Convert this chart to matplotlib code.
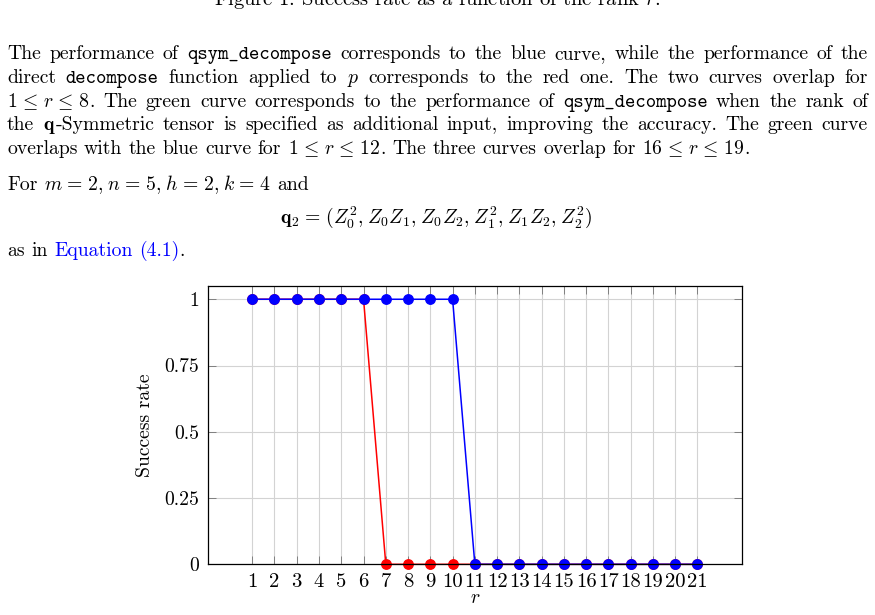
import matplotlib
matplotlib.use("Agg")
import matplotlib.pyplot as plt
from matplotlib.transforms import IdentityTransform

# ---------------- data ----------------
rank = [1, 2, 3, 4, 5, 6, 7, 8, 9, 10, 11, 12, 13, 14, 15, 16, 17, 18, 19, 20, 21]
red_rate = [1, 1, 1, 1, 1, 1, 0, 0, 0, 0, 0, 0, 0, 0, 0, 0, 0, 0, 0, 0, 0]
blue_rate = [1, 1, 1, 1, 1, 1, 1, 1, 1, 1, 0, 0, 0, 0, 0, 0, 0, 0, 0, 0, 0]
y_ticks = [0, 0.25, 0.5, 0.75, 1]
y_tick_labels = ["0", "0.25", "0.5", "0.75", "1"]
x_label = "$r$"
y_label = "Success rate"
caption = "Figure 1: Success rate as a function of the rank $r$."

plt.rcParams["font.family"] = ["cmr10", "DejaVu Serif"]
plt.rcParams["mathtext.fontset"] = "cm"
plt.rcParams["axes.formatter.use_mathtext"] = True

W, H = 875, 615
FS = 14.2
PX = FS * 100 / 72.0  # em in pixels

fig = plt.figure(figsize=(W / 100, H / 100), dpi=100)
fig.patch.set_facecolor("white")
renderer = fig.canvas.get_renderer()


def piece_kw(style):
    kw = dict(fontsize=FS, color="black")
    if style == "tt":
        kw["family"] = "cmtt10"
    elif style == "link":
        kw["color"] = "#0000ff"
    return kw


def put(x, ytop, s, style):
    return fig.text(x, H - ytop, s, transform=IdentityTransform(), ha="left",
                    va="baseline", **piece_kw(style))


def piece_width(s, st):
    t = put(0, -100, s, st)
    w = t.get_window_extent(renderer).width
    t.remove()
    return w


def token_width(tok):
    return sum(piece_width(s, st) for s, st in tok)


def draw_token(x, y, tok):
    for s, st in tok:
        t = put(x, y, s, st)
        x += t.get_window_extent(renderer).width
    return x


def draw_line(tokens, y, x0=7, x1=868, justify=True, center=None):
    widths = [token_width(t) for t in tokens]
    if justify and len(tokens) > 1:
        gap = (x1 - x0 - sum(widths)) / (len(tokens) - 1)
    else:
        gap = 0.333 * PX
    x = x0
    if center is not None:
        x = center - (sum(widths) + gap * (len(tokens) - 1)) / 2
    for tok, w in zip(tokens, widths):
        draw_token(x, y, tok)
        x += w + gap


def words(s, style="rm"):
    return [[(w, style)] for w in s.split()]


REL = r"\hspace{0.12}"
COM = r"\hspace{0.06}"


def m(s):
    s = s.replace("=", REL + "=" + REL).replace(r"\leq", REL + r"\leq" + REL)
    s = s.replace(",", "," + COM)
    return ("$" + s + "$", "m")


# caption (clipped at the top of the page)
fig.text(437, H - 5, caption, transform=IdentityTransform(), ha="center",
         va="baseline", fontsize=FS * 1.04)

line1 = (words("The performance of") + [[("qsym_decompose", "tt")]]
         + words("corresponds to the blue curve, while the performance of the"))
line2 = (words("direct") + [[("decompose", "tt")]] + words("function applied to")
         + [[m("p")]] + words("corresponds to the red one.  The two curves overlap for"))
line3 = ([[m(r"1 \leq r \leq 8"), (".", "rm")]]
         + words("The green curve corresponds to the performance of")
         + [[("qsym_decompose", "tt")]] + words("when the rank of"))
line4 = (words("the") + [[(r"$\mathbf{q}$", "m"), ("-Symmetric", "rm")]]
         + words("tensor is specified as additional input, improving the accuracy. The green curve"))
line5 = (words("overlaps with the blue curve for")
         + [[m(r"1 \leq r \leq 12"), (".", "rm")]]
         + words("The three curves overlap for")
         + [[m(r"16 \leq r \leq 19"), (".", "rm")]])
line6 = (words("For") + [[m("m = 2, n = 5, h = 2, k = 4")]] + words("and"))
line7 = [[m(r"\mathbf{q}_2 = (Z_0^2, Z_0Z_1, Z_0Z_2, Z_1^2, Z_1Z_2, Z_2^2)")]]
line8 = (words("as in") + [[("Equation", "link")], [("(4.1)", "link"), (".", "rm")]])

draw_line(line1, 59.3)
draw_line(line2, 83.0)
draw_line(line3, 106.7)
draw_line(line4, 130.5)
draw_line(line5, 154.2, justify=False)
draw_line(line6, 190.0, justify=False)
draw_line(line7, 223.0, justify=False, center=436)
draw_line(line8, 256.0, justify=False)

# ---------------- chart ----------------
L, R, T, B = 207.7, 742.0, 286.0, 564.3
ax = fig.add_axes([L / W, 1 - B / H, (R - L) / W, (B - T) / H])
ax.plot(rank, red_rate, color="red", lw=1.1, marker="o", ms=6.8,
        mfc="red", mec="red", clip_on=False, zorder=3)
ax.plot(rank, blue_rate, color="blue", lw=1.1, marker="o", ms=6.8,
        mfc="blue", mec="blue", clip_on=False, zorder=4)
ax.set_xlim(-1, 23)
ax.set_ylim(0, 1.05)
ax.set_xticks(rank)
ax.set_xticklabels([str(v) for v in rank])
ax.set_yticks(y_ticks)
ax.set_yticklabels(y_tick_labels)
ax.grid(True, color="#d3d3d3", lw=0.8, zorder=0)
ax.set_axisbelow(True)
ax.tick_params(direction="in", length=5.8, width=0.7, color="#808080",
               top=True, right=True, labelsize=FS, pad=6)
ax.tick_params(axis="x", labelsize=FS * 1.05)
for s in ax.spines.values():
    s.set_linewidth(0.9)
    s.set_color("black")
    s.set_zorder(5)

fig.text(475, H - 603, x_label, transform=IdentityTransform(), ha="center",
         va="baseline", fontsize=FS)
fig.text(145, H - 425, y_label, transform=IdentityTransform(), ha="center",
         va="center", rotation=90, fontsize=FS)

fig.savefig("out.png", dpi=100)
